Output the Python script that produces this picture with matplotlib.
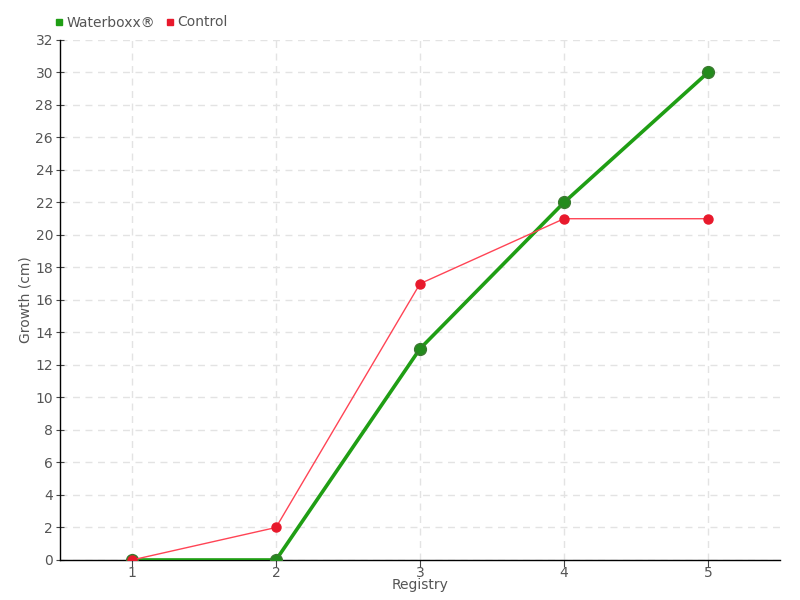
import matplotlib
matplotlib.use("Agg")
import matplotlib.pyplot as plt
from matplotlib.lines import Line2D

registry = [1, 2, 3, 4, 5]
waterboxx = [0, 0, 13, 22, 30]
control = [0, 2, 17, 21, 21]
y_ticks = list(range(0, 33, 2))

plt.rcParams['font.family'] = ['DejaVu Sans']
fig = plt.figure(figsize=(8, 6), dpi=100)
ax = fig.add_axes([0.075, 0.0667, 0.9, 0.8667])

ax.plot(registry, control, color='#ff4455', lw=1, marker='o', ms=6.5,
        mfc='#e8192c', mec='#e8192c', zorder=4)
ax.plot(registry, waterboxx, color='#1f9e14', lw=2.6, marker='o', ms=8.5,
        mfc='#238b1c', mec='#3a7a30', mew=1, zorder=3)

ax.set_xlim(0.5, 5.5)
ax.set_ylim(0, 32)
ax.set_xticks(registry)
ax.set_yticks(y_ticks)
ax.grid(True, color='#e3e3e3', ls=(0, (5, 4)), lw=1)
ax.set_axisbelow(True)
for s in ['top', 'right']:
    ax.spines[s].set_visible(False)
for s in ['left', 'bottom']:
    ax.spines[s].set_color('black')
    ax.spines[s].set_linewidth(1)
ax.tick_params(axis='both', colors='#444444', labelcolor='#555555', labelsize=10, length=5)
ax.tick_params(axis='x', pad=-1)
ax.tick_params(axis='y', direction='inout', length=6, pad=2)
ax.set_xlabel('Registry', color='#555555', fontsize=10, labelpad=-1)
ax.set_ylabel('Growth (cm)', color='#555555', fontsize=10, labelpad=2)

handles = [Line2D([], [], ls='none', marker='s', ms=5, color='#1f9e14'),
           Line2D([], [], ls='none', marker='s', ms=5, color='#e8192c')]
fig.legend(handles, ['Waterboxx®', 'Control'], loc='upper left',
           bbox_to_anchor=(0.05, 0.995), ncol=2, frameon=False,
           handletextpad=0.0, columnspacing=0.6, handlelength=1.0,
           labelcolor='#555555', fontsize=10)

fig.savefig('out.png', dpi=100)
